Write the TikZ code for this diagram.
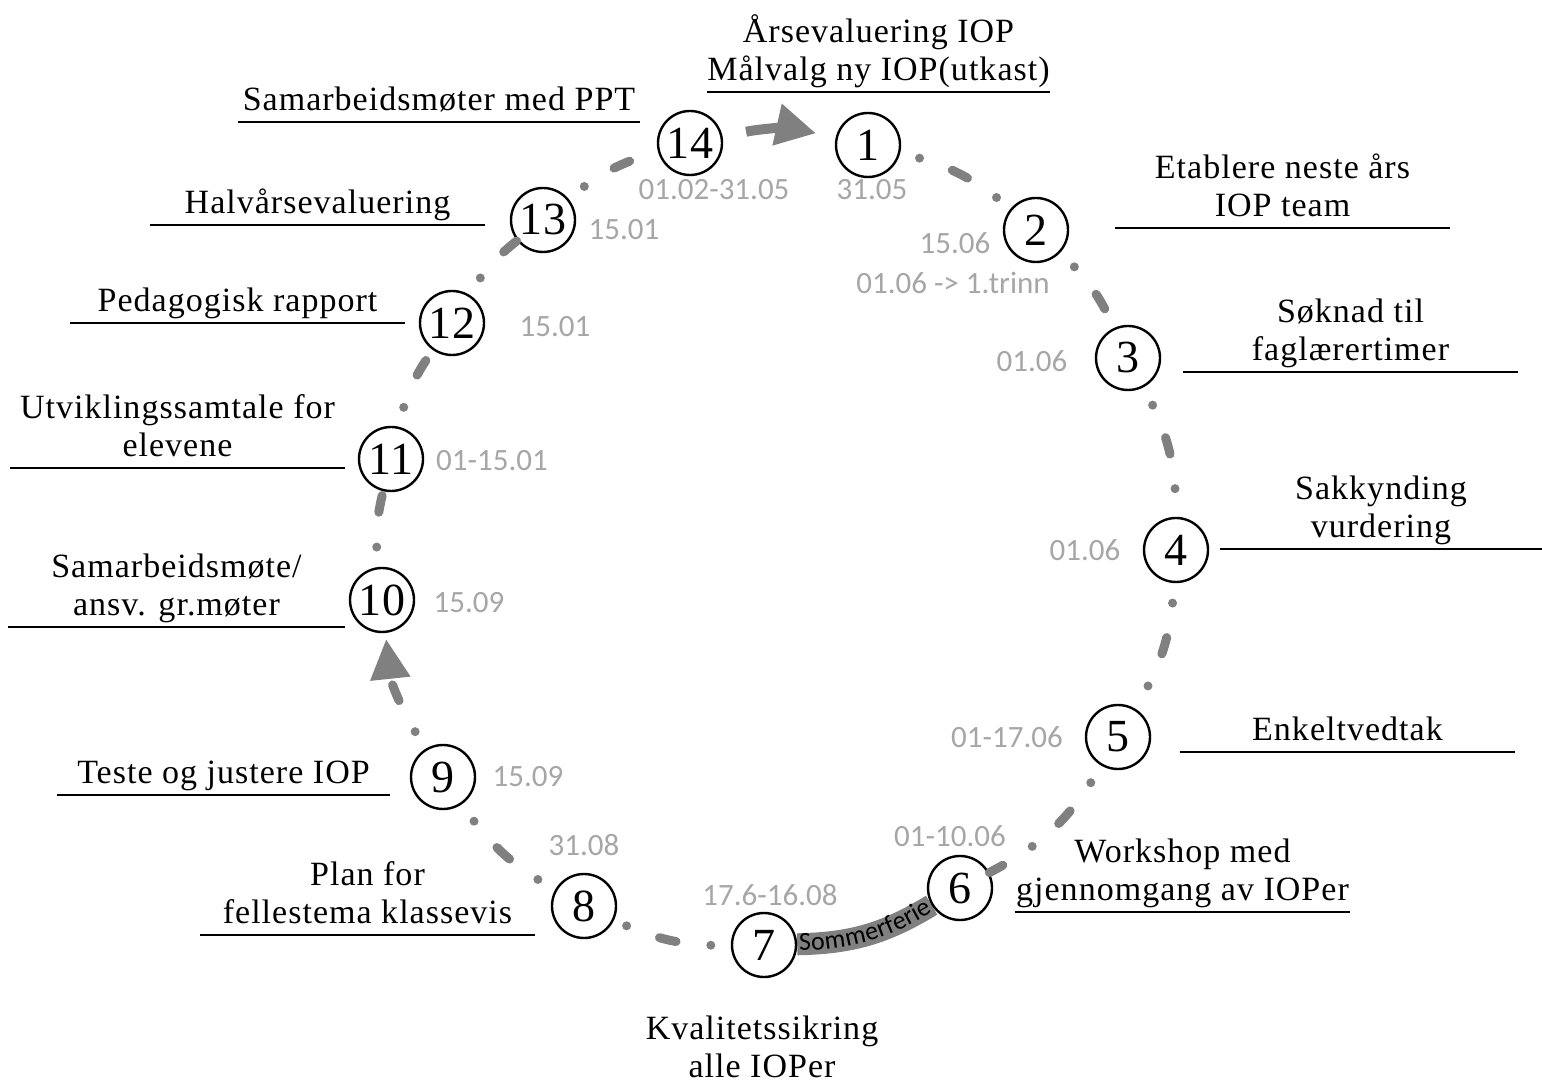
\documentclass[tikz,border=0pt]{standalone}
\usepackage{fontspec}
\setmainfont{Liberation Serif}[LetterSpace=3]
\newfontfamily\datefont{Carlito}
\usetikzlibrary{arrows.meta,decorations.text}

\definecolor{ringgray}{RGB}{128,128,128}
\definecolor{dategray}{RGB}{166,166,166}

\pgfdeclarelayer{bg}
\pgfsetlayers{bg,main}

\tikzset{
  num/.style={circle, draw, line width=1.2pt, fill=white, minimum size=32pt, inner sep=0pt, font=\fontsize{23}{23}\selectfont},
  date/.style={text=dategray, inner sep=0pt, font=\datefont\fontsize{15.5}{15.5}\selectfont},
  lbl/.style={minimum width=#1, align=center, anchor=south, inner xsep=0pt, inner ysep=0pt, font=\fontsize{17}{19}\selectfont, execute at end node=\strut},
  rule/.style={line width=0.75pt},
  ring/.style={draw=ringgray, line width=4.5pt, line cap=round, dash pattern=on 0pt off 17.5pt on 8.5pt off 17.5pt, dash phase=33.5pt},
  bigarrow/.style={draw=ringgray, line width=5pt, -{Triangle[length=20pt,width=20pt]}},
  band/.style={draw=ringgray, line width=11pt},
}

\begin{document}
\begin{tikzpicture}[x=0.5pt,y=0.5pt]
\useasboundingbox (0,0) rectangle (1542,1088);

% steps round the year
\node[num] (n1)  at (868,943) {1};
\node[num] (n2)  at (1036,858) {2};
\node[num] (n3)  at (1128,730) {3};
\node[num] (n4)  at (1176,538) {4};
\node[num] (n5)  at (1118,351) {5};
\node[num] (n6)  at (960,200) {6};
\node[num] (n7)  at (764,143) {7};
\node[num] (n8)  at (584,182) {8};
\node[num] (n9)  at (443,311) {9};
\node[num] (n10) at (382,488) {10};
\node[num] (n11) at (391,629) {11};
\node[num] (n12) at (452,765) {12};
\node[num] (n13) at (543,868) {13};
\node[num] (n14) at (690,945) {14};

% dates
\node[date] (d1)  at (872,898) {31.05};
\node[date] (d14) at (714,898) {01.02-31.05};
\node[date] (d2)  at (955,845) {15.06};
\node[date] (d2b) at (953,805) {01.06 -> 1.trinn};
\node[date] (d3)  at (1032,727) {01.06};
\node[date] (d4)  at (1085,538) {01.06};
\node[date] (d5)  at (1007,351) {01-17.06};
\node[date] (d6)  at (950,252) {01-10.06};
\node[date] (d7)  at (770,193) {17.6-16.08};
\node[date] (d8)  at (584,243) {31.08};
\node[date] (d9)  at (528,311) {15.09};
\node[date] (d10) at (469,485) {15.09};
\node[date] (d11) at (492,627) {01-15.01};
\node[date] (d12) at (555,761) {15.01};
\node[date] (d13) at (624,858) {15.01};

% labels with rules
\node[lbl=166.5pt] (t1)  at (878.5,996) {Årsevaluering IOP\\Målvalg ny IOP(utkast)};
\node[lbl=167.5pt] (t2)  at (1282.5,860) {Etablere neste års\\IOP team};
\node[lbl=167.5pt] (t3)  at (1350.5,716) {Søknad til\\faglærertimer};
\node[lbl=161pt]   (t4)  at (1381,539) {Sakkynding\\vurdering};
\node[lbl=167.5pt] (t5)  at (1347.5,336) {Enkeltvedtak};
\node[lbl=167.5pt] (t6)  at (1182.5,176) {Workshop med\\gjennomgang av IOPer};
\node[lbl=167.5pt] (t8)  at (367.5,153) {Plan for\\fellestema klassevis};
\node[lbl=166.5pt] (t9)  at (223.5,293) {Teste og justere IOP};
\node[lbl=168.5pt] (t10) at (176.5,461) {Samarbeidsmøte/\\ansv. gr.møter};
\node[lbl=167.5pt] (t11) at (177.5,620) {Utviklingssamtale for\\elevene};
\node[lbl=167.5pt] (t12) at (237.5,765) {Pedagogisk rapport};
\node[lbl=167.5pt] (t13) at (317.5,863) {Halvårsevaluering};
\node[lbl=201pt]   (t14) at (439,966) {Samarbeidsmøter med PPT};
\node[align=center, font=\fontsize{17}{19}\selectfont] (t7) at (762,41) {Kvalitetssikring\\alle IOPer};

\draw[rule] (t1.south west) -- (t1.south east);
\draw[rule] (t2.south west) -- (t2.south east);
\draw[rule] (t3.south west) -- (t3.south east);
\draw[rule] (t4.south west) -- (t4.south east);
\draw[rule] (t5.south west) -- (t5.south east);
\draw[rule] (t6.south west) -- (t6.south east);
\draw[rule] (t8.south west) -- (t8.south east);
\draw[rule] (t9.south west) -- (t9.south east);
\draw[rule] (t10.south west) -- (t10.south east);
\draw[rule] (t11.south west) -- (t11.south east);
\draw[rule] (t12.south west) -- (t12.south east);
\draw[rule] (t13.south west) -- (t13.south east);
\draw[rule] (t14.south west) -- (t14.south east);

% the ring
\draw[ring] (n1) to[bend left=13] (n2);
\draw[ring] (n2) to[bend left=11] (n3);
\draw[ring] (n3) to[bend left=14] (n4);
\draw[ring] (n4) to[bend left=14] (n5);
\draw[ring] (n5) to[bend left=16] (n6);
\draw[ring] (n7) to[bend left=13] (n8);
\draw[ring] (n8) to[bend left=13] (n9);
\draw[ring, -{Triangle[length=20pt,width=19pt]}, shorten >=3pt] (n9) to[bend left=13] (n10);
\draw[ring] (n10) to[bend left=10] (n11);
\draw[ring] (n11) to[bend left=11] (n12);
\draw[ring] (n12) to[bend left=10] (n13);
\draw[ring] (n13) to[bend left=12] (n14);
\draw[bigarrow, shorten <=12pt, shorten >=10pt] (n14) to[bend left=12] (n1);

% summer holiday
\begin{pgfonlayer}{bg}
\draw[band] (n7) to[bend right=15] (n6);
\end{pgfonlayer}
\path[postaction={decorate, decoration={text along path, text={|\datefont\fontsize{13}{13}\selectfont|Sommerferie}, text align=center, raise=-3.2pt}}] (n7) to[bend right=15] (n6);

\end{tikzpicture}
\end{document}
